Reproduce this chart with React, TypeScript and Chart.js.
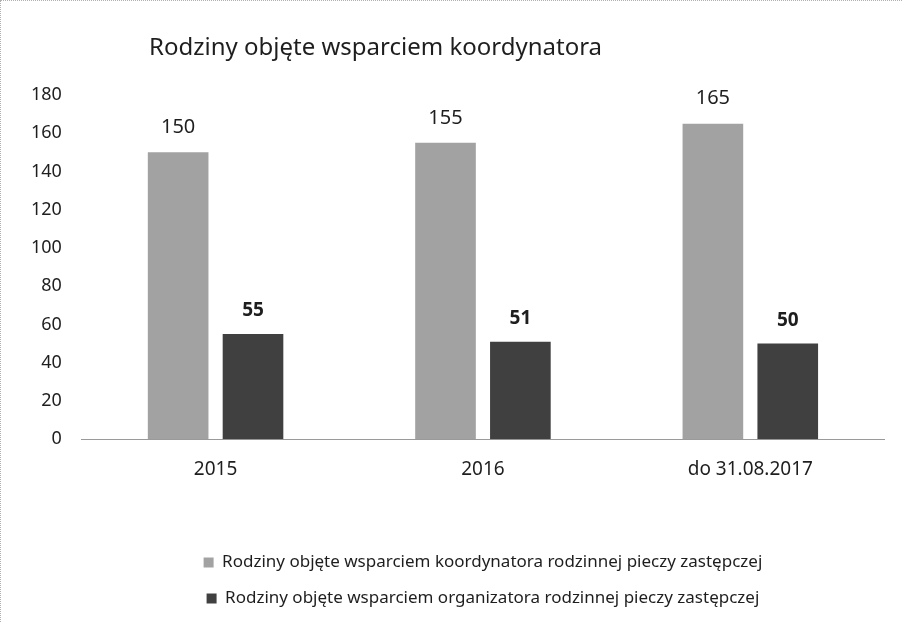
import React, { useEffect, useRef } from "react";
import { Chart, registerables } from "chart.js";

Chart.register(...registerables);

const TITLE = "Rodziny objęte wsparciem koordynatora";
const CATEGORIES = ["2015", "2016", "do 31.08.2017"];
const SERIES_NAMES = [
  "Rodziny objęte wsparciem koordynatora rodzinnej pieczy zastępczej",
  "Rodziny objęte wsparciem organizatora rodzinnej pieczy zastępczej",
];
const KOORDYNATOR = [150, 155, 165];
const ORGANIZATOR = [55, 51, 50];
const Y_MIN = 0;
const Y_MAX = 180;
const Y_STEP = 20;

const FONT = "'Noto Sans', 'Open Sans', sans-serif";

const valueLabels = {
  id: "valueLabels",
  afterDatasetsDraw(chart: any) {
    const ctx = chart.ctx;
    ctx.save();
    ctx.textAlign = "center";
    ctx.textBaseline = "middle";
    ctx.fillStyle = "#1e1e1e";
    chart.data.datasets.forEach((ds: any, di: number) => {
      const meta = chart.getDatasetMeta(di);
      ctx.font = (di === 1 ? "bold 19px " : "20px ") + FONT;
      meta.data.forEach((el: any, i: number) => {
        ctx.fillText(String(ds.data[i]), el.x, el.y - (di === 1 ? 23 : 25));
      });
    });
    ctx.restore();
  },
};

export default function App() {
  const ref = useRef<HTMLCanvasElement | null>(null);
  useEffect(() => {
    document.body.style.margin = "0";
    if (!ref.current) return;
    const chart = new Chart(ref.current, {
      type: "bar",
      data: {
        labels: CATEGORIES,
        datasets: [
          {
            label: SERIES_NAMES[0],
            data: KOORDYNATOR,
            backgroundColor: "#a2a2a2",
            categoryPercentage: 0.56,
            barPercentage: 0.81,
          },
          {
            label: SERIES_NAMES[1],
            data: ORGANIZATOR,
            backgroundColor: "#404040",
            categoryPercentage: 0.56,
            barPercentage: 0.81,
          },
        ],
      },
      options: {
        animation: false,
        responsive: false,
        maintainAspectRatio: false,
        layout: { padding: { top: 94, right: 17, bottom: 4, left: 18 } },
        scales: {
          x: {
            grid: { display: false },
            border: { display: true, color: "#9a9a9a", width: 1, dash: [2, 1] },
            ticks: { color: "#1e1e1e", font: { family: FONT, size: 19 }, padding: 11 },
            afterFit(scale: any) {
              scale.height += 43;
            },
          },
          y: {
            min: Y_MIN,
            max: Y_MAX,
            grid: { display: false },
            border: { display: false },
            ticks: {
              stepSize: Y_STEP,
              color: "#1e1e1e",
              font: { family: FONT, size: 18 },
              padding: 12,
            },
          },
        },
        plugins: {
          title: { display: false },
          tooltip: { enabled: false },
          legend: {
            position: "bottom",
            fullSize: false,
            labels: {
              color: "#1e1e1e",
              font: { family: FONT, size: 17 },
              usePointStyle: true,
              pointStyle: "rect",
              boxWidth: 10,
              boxHeight: 10,
              padding: 19,
            },
          },
        },
      },
      plugins: [valueLabels],
    });
    return () => chart.destroy();
  }, []);
  return (
    <div
      style={{
        position: "relative",
        width: 902,
        height: 622,
        boxSizing: "border-box",
        borderTop: "1px dotted #b0b0b0",
        borderLeft: "1px dotted #b0b0b0",
        background: "#fff",
      }}
    >
      <div
        style={{
          position: "absolute",
          left: 148,
          top: 28,
          fontFamily: FONT,
          fontSize: 24,
          color: "#1e1e1e",
          whiteSpace: "nowrap",
        }}
      >
        {TITLE}
      </div>
      <canvas ref={ref} width={900} height={620} style={{ display: "block" }} />
    </div>
  );
}
